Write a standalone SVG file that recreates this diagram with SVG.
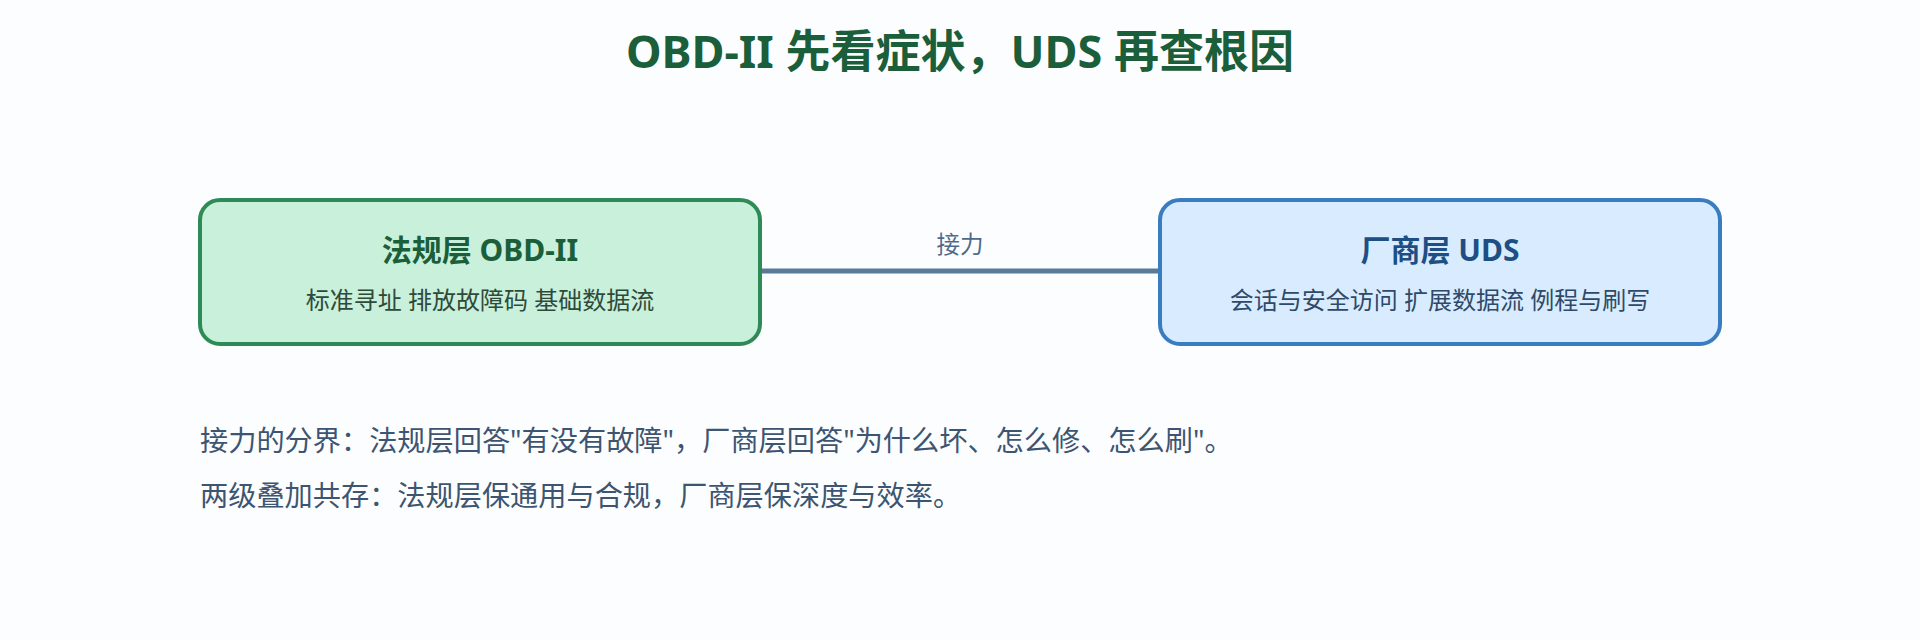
<svg xmlns="http://www.w3.org/2000/svg" width="1920" height="640" viewBox="0 0 1920 640">
<style>
text{font-family:"Noto Sans","Noto Sans CJK SC",sans-serif}
.t{font-size:45px;font-weight:bold;fill:#1b5e3a}
.h{font-size:30px;font-weight:bold}
.s{font-size:24px}
.n{font-size:28.2px;fill:#3d5570}
</style>
<rect width="1920" height="640" fill="#fcfdff"/>
<text class="t" x="960" y="68" text-anchor="middle">OBD-II 先看症状，UDS 再查根因</text>
<g id="connectors">
<line x1="760" y1="271" x2="1160" y2="271" stroke="#5a7a9a" stroke-width="5"/>
<text x="960" y="253" text-anchor="middle" style="font-size:23.5px;fill:#4f6a88">接力</text>
</g>
<g id="obd">
<rect x="200" y="200" width="560" height="144" rx="20" fill="#c8f0da" stroke="#2e8b57" stroke-width="4"/>
<text class="h" x="480" y="261" text-anchor="middle" fill="#1b5e3a">法规层 OBD-II</text>
<text class="s" x="480" y="309" text-anchor="middle" fill="#2e4a3a">标准寻址 排放故障码 基础数据流</text>
</g>
<g id="uds">
<rect x="1160" y="200" width="560" height="144" rx="20" fill="#d9ecff" stroke="#3a7cc0" stroke-width="4"/>
<text class="h" x="1440" y="261" text-anchor="middle" fill="#1d4f85">厂商层 UDS</text>
<text class="s" x="1440" y="309" text-anchor="middle" fill="#2f4a68">会话与安全访问 扩展数据流 例程与刷写</text>
</g>
<text class="n" x="200" y="451">接力的分界：法规层回答"有没有故障"，厂商层回答"为什么坏、怎么修、怎么刷"。</text>
<text class="n" x="200" y="506">两级叠加共存：法规层保通用与合规，厂商层保深度与效率。</text>
</svg>
